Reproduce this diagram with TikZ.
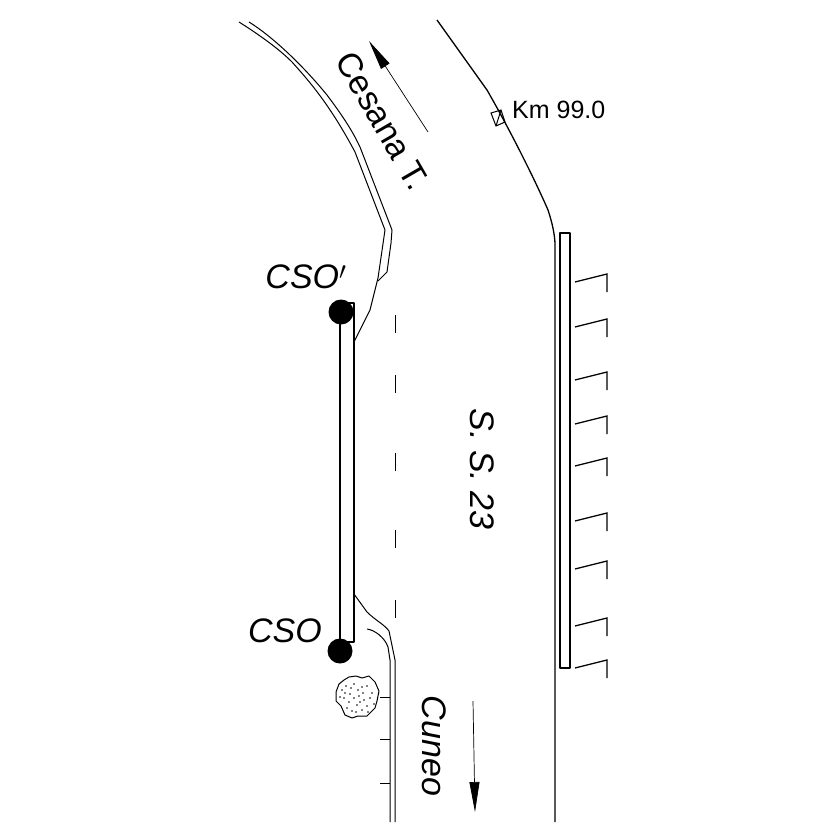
\documentclass[tikz,border=0pt]{standalone}
\usepackage{fontspec}
\setmainfont{Liberation Sans}
\usetikzlibrary{arrows.meta}
\tikzset{
  road/.style={line width=1.3pt,line join=round},
  thin road/.style={line width=1pt,line join=round},
  label text/.style={inner sep=0pt,font=\fontsize{34}{34}\selectfont},
  dir arrow/.style={line width=0.7pt,-{Triangle[length=30pt,width=10pt]}},
  fence/.style={line width=1.3pt},
  dot/.style={circle,fill=black,inner sep=0pt,minimum size=25pt}
}
\begin{document}
\begin{tikzpicture}[x=1pt,y=-1pt]
\useasboundingbox (0,0) rectangle (827,827);
\fill[white] (0,0) rectangle (827,827);
% left road edge (double line)
\draw[thin road] (249,22) .. controls (270,35) and (300,62) .. (327,95) .. controls (342,115) and (352,130) .. (360,147) -- (392,230) -- (391,243) -- (387,272) -- (378,281);
\draw[thin road] (239,22) .. controls (258,34) and (278,48) .. (292,62) .. controls (310,82) and (330,105) .. (355,152) -- (385,230) -- (378,278) -- (370,310) -- (354,342);
% right road edge
\draw[road] (437,20) -- (487,90) .. controls (510,130) and (535,180) .. (548,210) .. controls (552,222) and (555,235) .. (555,245) -- (555,822);
% km marker
\draw[line width=1pt] (491,113) -- (501,110) -- (505,122) -- (496,126) -- cycle (496,126) -- (501,110);
\node[anchor=west,inner sep=0pt,font=\fontsize{25}{25}\selectfont] (km) at (512,110) {Km 99.0};
% right barrier
\draw[road] (560,233) rectangle (570,668);
% fence
\foreach \y in {274,319,372,416,458,513,561,618,660}{
  \draw[fence] (575,\y+8) -- (607,\y) -- (607,\y+18);
}
% left barrier
\draw[road] (340,303) rectangle (354,642);
\node[dot] (csop) at (341,312) {};
\node[dot] (cso) at (340,651) {};
\node[label text,font=\fontsize{34}{34}\selectfont\itshape] (csoptext) at (306,277) {CSO$'$};
\node[label text,font=\fontsize{34}{34}\selectfont\itshape] (csotext) at (285,631) {CSO};
% lower left edge
\draw[thin road] (354,594) -- (367,612) .. controls (375,620) and (385,625) .. (389,631) -- (395,660) -- (395,822);
\draw[thin road] (367,629) .. controls (375,630) and (385,638) .. (388,647) -- (390,660) -- (390,822);
\foreach \y in {697,739,783}{\draw[thin road] (380,\y) -- (390,\y);}
% centre dashes
\foreach \y in {315,375,453,530,600}{\draw[thin road] (395,\y) -- (395,\y+18);}
% bush
\draw[line width=1pt,line join=round] (349,677) -- (356,676) -- (362,678) -- (369,676) -- (375,682) -- (379,691) -- (377,701) -- (375,708) -- (367,716) -- (358,716) -- (352,718) -- (345,715) -- (341,706) -- (336,701) -- (336,692) -- (339,684) -- (344,680) -- cycle;
\foreach \a/\b in {342/690,346/686,350/694,354/684,358/690,362/687,367/686,372/693,344/698,349/702,354/698,359/696,364/700,370/698,374/704,347/708,352/711,357/705,362/710,367/706,340/697,356/712,363/693,351/688,368/712,345/693,360/702}{
  \fill (\a,\b) circle (0.9pt);
}
% texts and arrows
\coordinate (ca) at (428,132);
\coordinate (cb) at (369,41);
\draw[dir arrow] (ca) -- (cb);
\node[label text,rotate=-60] (cesana) at (383,121) {Cesana T.};
\node[label text,font=\fontsize{34}{34}\selectfont\itshape,rotate=-90] (cuneo) at (434,746) {Cuneo};
\coordinate (da) at (473,701);
\coordinate (db) at (475,812);
\draw[dir arrow] (da) -- (db);
\node[label text,font=\fontsize{34}{34}\selectfont\itshape,rotate=-90] (ss) at (482,469) {S. S. 23};
\end{tikzpicture}
\end{document}
